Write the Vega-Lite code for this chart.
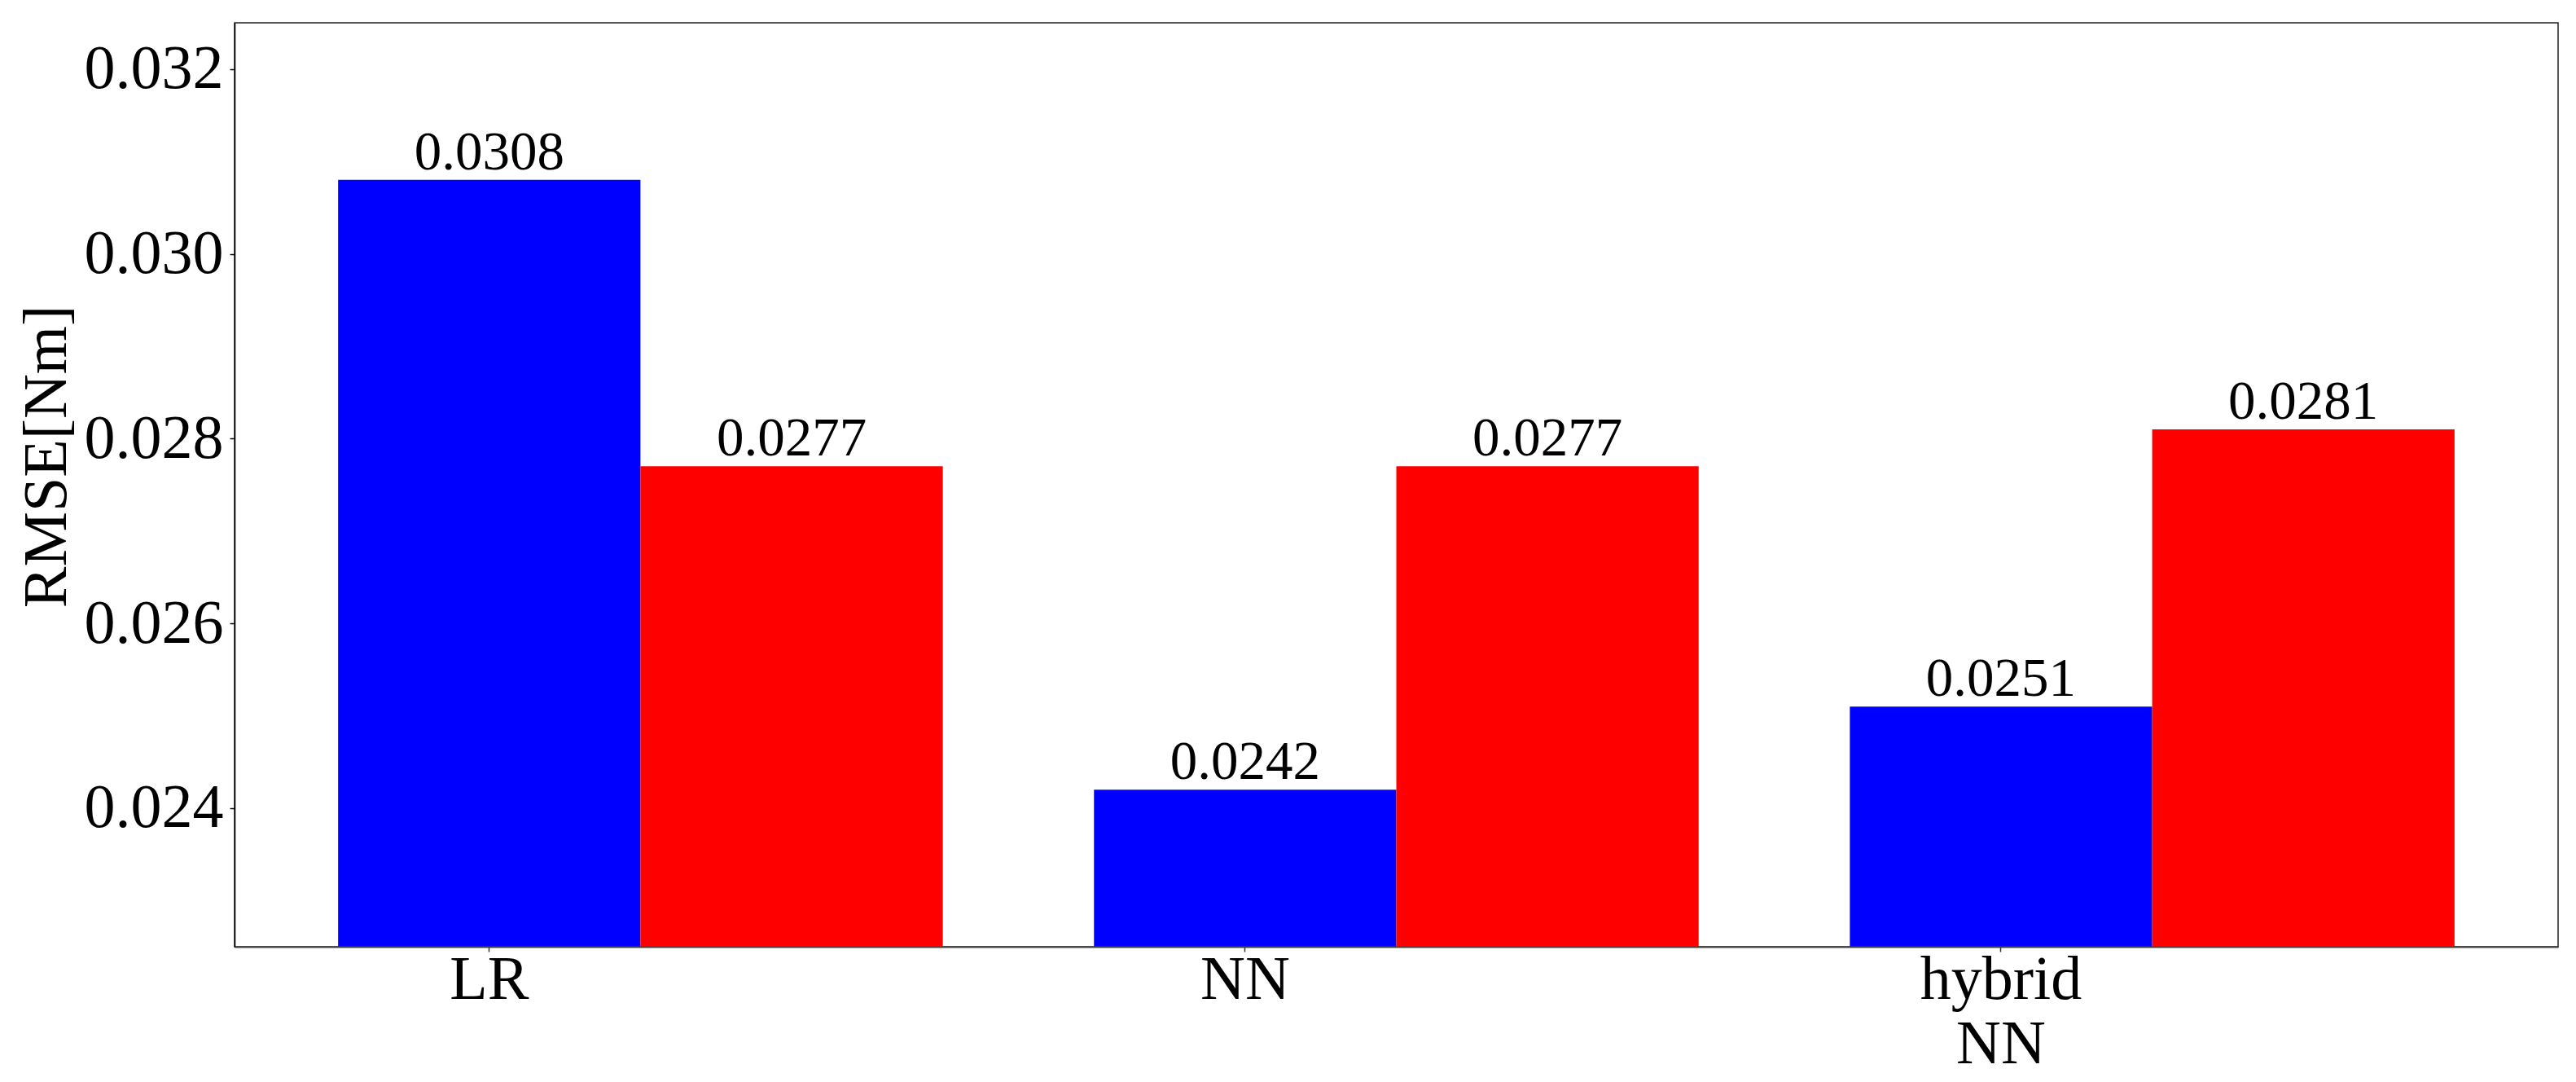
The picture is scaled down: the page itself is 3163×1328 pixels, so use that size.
{
  "$schema": "https://vega.github.io/schema/vega-lite/v6.json",
  "autosize": {"type": "none"},
  "padding": {"left": 288, "top": 28, "right": 22, "bottom": 166},
  "width": 2853,
  "height": 1134,
  "background": "white",
  "config": {
    "font": "Liberation Serif",
    "view": {"stroke": "#222222", "strokeWidth": 1.5},
    "axis": {"grid": false}
  },
  "data": {
    "values": [
      {"model": "LR", "series": "s1", "rmse": 0.0308},
      {"model": "LR", "series": "s2", "rmse": 0.0277},
      {"model": "NN", "series": "s1", "rmse": 0.0242},
      {"model": "NN", "series": "s2", "rmse": 0.0277},
      {"model": "hybrid NN", "series": "s1", "rmse": 0.0251},
      {"model": "hybrid NN", "series": "s2", "rmse": 0.0281}
    ]
  },
  "encoding": {
    "x": {
      "field": "model",
      "type": "nominal",
      "sort": ["LR", "NN", "hybrid NN"],
      "scale": {"paddingInner": 0.2, "paddingOuter": 0.137},
      "axis": {
        "title": null,
        "labelAngle": 0,
        "labelFontSize": 76,
        "labelColor": "black",
        "labelFont": "Liberation Serif",
        "labelBaseline": "top",
        "labelLineHeight": 79,
        "labelPadding": -3,
        "labelLimit": 2000,
        "labelOffset": -185.6,
        "labelExpr": "datum.value == 'hybrid NN' ? ['hybrid', 'NN'] : datum.label",
        "bandPosition": 0.25,
        "tickSize": 6,
        "tickColor": "#333333",
        "tickWidth": 1.5,
        "domainColor": "#444444",
        "domainWidth": 2,
        "zindex": 1
      }
    },
    "xOffset": {
      "field": "series",
      "type": "nominal",
      "scale": {"paddingInner": 0, "paddingOuter": 0}
    },
    "y": {
      "field": "rmse",
      "type": "quantitative",
      "scale": {"domain": [0.0225, 0.0325], "zero": false, "nice": false},
      "axis": {
        "title": "RMSE[Nm]",
        "titleFontSize": 76,
        "titleFontWeight": "normal",
        "titleFont": "Liberation Serif",
        "titleColor": "black",
        "titleAngle": -90,
        "titleBaseline": "alphabetic",
        "titleAlign": "center",
        "titleX": -208,
        "titleY": 532,
        "values": [0.024, 0.026, 0.028, 0.030, 0.032],
        "format": ".3f",
        "labelFontSize": 76,
        "labelColor": "black",
        "labelFont": "Liberation Serif",
        "labelPadding": 8,
        "tickSize": 6,
        "tickColor": "black",
        "tickWidth": 1.5,
        "domainColor": "black",
        "domainWidth": 1.5,
        "zindex": 1
      }
    }
  },
  "layer": [
    {
      "mark": {"type": "bar", "clip": true},
      "encoding": {
        "color": {
          "field": "series",
          "type": "nominal",
          "scale": {"domain": ["s1", "s2"], "range": ["#0000ff", "#ff0000"]},
          "legend": null
        }
      }
    },
    {
      "mark": {"type": "text", "baseline": "alphabetic", "align": "center", "dy": -13, "fontSize": 67, "color": "black", "font": "Liberation Serif"},
      "encoding": {
        "text": {"field": "rmse", "type": "quantitative", "format": ".4f"}
      }
    }
  ]
}
